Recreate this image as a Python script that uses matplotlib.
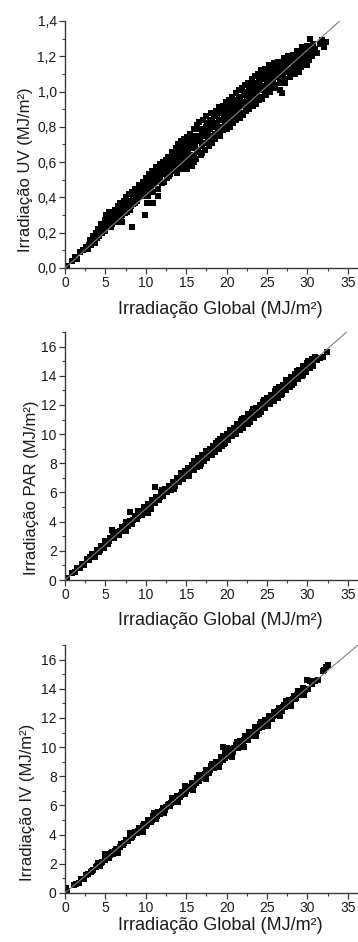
import matplotlib
matplotlib.use("Agg")
from matplotlib import pyplot as plt
from matplotlib.ticker import MultipleLocator, FuncFormatter

plt.rcParams['font.family'] = ['Liberation Sans', 'DejaVu Sans']

# ---- dados ----
uv_x = [0.2, 0.9, 1.2, 1.5, 1.9, 2.2, 2.6, 2.9,
        3.1, 3.2, 3.5, 3.6, 3.8, 3.9, 4.1, 4.2, 4.4, 4.6, 4.7, 4.9,
        5.0, 5.1, 5.3, 5.4, 5.6, 5.7, 5.9, 6.0, 6.2, 6.3, 6.5, 6.6, 6.8, 6.9, 7.0, 7.1, 7.3, 7.4,
        7.6, 7.7, 7.9, 8.0, 8.1, 8.24, 8.3, 8.4, 8.6, 8.7, 8.9, 9.0, 9.1, 9.3, 9.4, 9.6, 9.7, 9.8, 9.9, 10.0,
        10.1, 10.1, 10.3, 10.4, 10.5, 10.7, 10.8, 10.9, 11.0, 11.1, 11.2, 11.4, 11.5, 11.5, 11.7, 11.8, 11.9, 12.0, 12.1, 12.2, 12.4, 12.5,
        12.6, 12.7, 12.8, 12.9, 13.0, 13.1, 13.2, 13.3, 13.4, 13.6, 13.7, 13.8, 13.9, 14.0, 14.1, 14.2, 14.3, 14.4, 14.5, 14.6, 14.7, 14.8, 14.9, 15.0,
        15.1, 15.2, 15.3, 15.4, 15.5, 15.6, 15.7, 15.8, 15.9, 16.0, 16.1, 16.2, 16.3, 16.4, 16.5, 16.6, 16.7, 16.8, 16.9, 17.0, 17.1, 17.2, 17.3, 17.4, 17.5, 17.5,
        17.7, 17.8, 17.9, 18.0, 18.1, 18.2, 18.3, 18.4, 18.5, 18.6, 18.7, 18.8, 18.9, 19.0, 19.1, 19.2, 19.3, 19.4, 19.5, 19.6, 19.7, 19.8, 19.9, 20.0,
        20.1, 20.2, 20.3, 20.4, 20.5, 20.6, 20.7, 20.8, 20.9, 21.0, 21.1, 21.2, 21.3, 21.4, 21.5, 21.6, 21.7, 21.8, 21.9, 22.0, 22.1, 22.2, 22.3, 22.4,
        22.5, 22.6, 22.7, 22.8, 22.9, 23.0, 23.1, 23.2, 23.3, 23.4, 23.5, 23.6, 23.7, 23.8, 23.9, 24.0, 24.1, 24.2, 24.3, 24.4, 24.5, 24.6, 24.8, 24.9,
        25.0, 25.2, 25.3, 25.4, 25.6, 25.7, 25.8, 26.0, 26.1, 26.3, 26.4, 26.6, 26.8, 26.9, 27.0, 27.1, 27.2, 27.3, 27.5, 27.6,
        27.8, 27.9, 28.1, 28.2, 28.4, 28.5, 28.7, 28.8, 29.0, 29.1, 29.3, 29.4, 29.6, 29.7, 29.9, 30.0,
        30.2, 30.3, 30.5, 30.7, 30.9, 31.2, 31.5, 31.8, 32.0, 32.3,
        3.0, 3.4, 3.7, 4.0, 4.5, 4.8, 5.05, 5.5, 5.8, 6.1, 6.4, 6.7, 7.05, 7.35, 7.65, 7.85, 8.15, 8.45, 8.65, 8.85,
        9.15, 9.35, 9.55, 9.75, 10.05, 10.25, 10.45, 10.65, 10.85, 11.05, 11.25, 11.45, 11.65, 11.85, 12.05, 12.3,
        12.55, 12.85, 13.05, 13.35, 13.55, 13.85, 14.05, 14.25, 14.55, 14.75, 14.95, 15.15, 15.35, 15.55, 15.75, 15.95,
        16.15, 16.35, 16.55, 16.75, 16.95, 17.15, 17.35, 17.55, 17.75, 17.95, 18.15, 18.35, 18.55, 18.75, 18.95, 19.15,
        19.35, 19.55, 19.75, 19.95, 20.15, 20.35, 20.55, 20.75, 20.95, 21.15, 21.35, 21.55, 21.75, 21.95, 22.15, 22.35,
        22.55, 22.75, 22.95, 23.15, 23.35, 23.55, 23.75, 23.95, 24.15, 24.35, 24.55, 24.75, 24.95, 25.15, 25.35, 25.55,
        25.75, 25.95, 26.15, 26.35, 26.55, 26.75, 26.95, 27.15, 27.35, 27.55, 27.75, 27.95, 28.15, 28.35, 28.55, 28.75,
        28.95, 29.15, 29.35, 29.55, 29.75, 29.95, 30.15, 30.4, 30.6]
uv_y = [0.01, 0.04, 0.06, 0.05, 0.09, 0.10, 0.12, 0.11,
        0.16, 0.13, 0.18, 0.15, 0.20, 0.17, 0.22, 0.18, 0.25, 0.20, 0.23, 0.27,
        0.21, 0.30, 0.24, 0.32, 0.27, 0.23, 0.30, 0.26, 0.33, 0.28, 0.35, 0.30, 0.37, 0.27, 0.26, 0.33, 0.38, 0.31,
        0.40, 0.35, 0.42, 0.33, 0.38, 0.234, 0.43, 0.36, 0.40, 0.45, 0.38, 0.43, 0.47, 0.41, 0.45, 0.49, 0.42, 0.46, 0.30, 0.51,
        0.37, 0.44, 0.48, 0.53, 0.45, 0.50, 0.55, 0.37, 0.47, 0.52, 0.57, 0.49, 0.41, 0.54, 0.59, 0.51, 0.56, 0.48, 0.60, 0.53, 0.57, 0.61,
        0.51, 0.55, 0.63, 0.58, 0.53, 0.61, 0.66, 0.56, 0.63, 0.59, 0.68, 0.54, 0.62, 0.70, 0.57, 0.65, 0.72, 0.60, 0.67, 0.56, 0.73, 0.63, 0.69, 0.59,
        0.74, 0.65, 0.71, 0.61, 0.76, 0.68, 0.58, 0.73, 0.64, 0.79, 0.70, 0.62, 0.81, 0.75, 0.66, 0.83, 0.72, 0.64, 0.78, 0.69, 0.84, 0.75, 0.67, 0.80, 0.71, 0.86,
        0.77, 0.69, 0.83, 0.74, 0.88, 0.71, 0.80, 0.86, 0.76, 0.73, 0.89, 0.82, 0.77, 0.91, 0.84, 0.75, 0.88, 0.80, 0.92, 0.78, 0.86, 0.82, 0.94, 0.79,
        0.88, 0.84, 0.95, 0.80, 0.90, 0.86, 0.97, 0.82, 0.92, 0.88, 0.99, 0.84, 0.94, 0.90, 1.01, 0.85, 0.96, 0.92, 1.02, 0.87, 0.98, 0.93, 1.04, 0.89,
        0.99, 0.95, 1.05, 0.90, 1.00, 0.96, 1.07, 0.92, 1.02, 0.98, 1.09, 0.93, 1.04, 0.99, 1.10, 0.95, 1.06, 1.01, 1.12, 0.96, 1.07, 1.03, 1.13, 0.98,
        1.09, 1.04, 1.15, 1.00, 1.10, 1.06, 1.16, 1.02, 1.12, 1.08, 1.17, 1.05, 0.99, 1.13, 1.09, 1.19, 1.05, 1.15, 1.11, 1.20,
        1.08, 1.17, 1.13, 1.21, 1.10, 1.18, 1.23, 1.14, 1.11, 1.20, 1.25, 1.16, 1.22, 1.18, 1.26, 1.15,
        1.23, 1.30, 1.20, 1.27, 1.24, 1.22, 1.27, 1.29, 1.25, 1.28,
        0.13, 0.16, 0.14, 0.19, 0.22, 0.24, 0.25, 0.29, 0.25, 0.31, 0.26, 0.33, 0.30, 0.35, 0.32, 0.38, 0.35, 0.41, 0.37, 0.42,
        0.40, 0.44, 0.41, 0.48, 0.45, 0.41, 0.50, 0.47, 0.43, 0.54, 0.49, 0.45, 0.52, 0.58, 0.54, 0.49,
        0.57, 0.52, 0.59, 0.64, 0.55, 0.66, 0.63, 0.58, 0.70, 0.60, 0.66, 0.56, 0.68, 0.63, 0.71, 0.60,
        0.75, 0.67, 0.73, 0.79, 0.65, 0.71, 0.77, 0.82, 0.73, 0.79, 0.84, 0.75, 0.82, 0.86, 0.80, 0.88,
        0.78, 0.84, 0.90, 0.86, 0.81, 0.92, 0.83, 0.89, 0.95, 0.86, 0.92, 0.97, 0.88, 0.94, 1.00, 0.90,
        0.96, 1.02, 0.93, 0.99, 1.05, 0.95, 1.01, 1.07, 0.97, 1.03, 1.10, 1.00, 1.06, 1.12, 1.02, 1.07,
        1.13, 1.04, 1.09, 1.14, 1.01, 1.10, 1.16, 1.07, 1.12, 1.17, 1.13, 1.10, 1.18, 1.15, 1.12, 1.20,
        1.17, 1.14, 1.22, 1.19, 1.24, 1.21, 1.18, 1.25, 1.22]

par_x = [0.2, 0.9, 1.2, 1.5, 1.8, 2.1, 2.4, 2.7, 3.0, 3.3, 3.7, 3.9, 4.2, 4.5, 4.8, 5.0, 5.3, 5.6, 5.8, 6.1,
         6.4, 6.7, 7.0, 7.3, 7.6, 7.8, 8.0, 8.0, 8.3, 8.6, 8.9, 9.2, 9.5, 9.8, 10.0, 10.3, 10.3, 10.5, 10.8, 11.1,
         11.1, 11.3, 11.6, 11.9, 12.1, 12.4, 12.6, 12.9, 13.1, 13.4, 13.6, 13.9, 14.1, 14.3, 14.6, 14.8, 15.0, 15.2, 15.4, 15.7,
         15.9, 16.1, 16.3, 16.5, 16.8, 17.0, 17.2, 17.4, 17.6, 17.9, 18.1, 18.3, 18.5, 18.7, 19.0, 19.2, 19.4, 19.6, 19.8, 20.0,
         20.2, 20.5, 20.7, 20.9, 21.1, 21.3, 21.6, 21.8, 22.0, 22.2, 22.5, 22.7, 22.9, 23.1, 23.4, 23.6, 23.8, 24.1, 24.3, 24.5,
         24.8, 25.0, 25.3, 25.5, 25.8, 26.0, 26.3, 26.5, 26.8, 27.0, 27.3, 27.5, 27.8, 28.0, 28.3, 28.5, 28.8, 29.0, 29.3, 29.5,
         29.8, 30.0, 30.3, 30.6, 30.9, 31.2, 31.5, 31.9, 32.4,
         3.15, 3.5, 4.05, 4.35, 4.65, 5.15, 5.45, 5.95, 6.25, 6.55, 6.85, 7.15, 7.45, 7.95, 8.45, 8.75, 9.05, 9.35, 9.65, 10.15,
         10.65, 10.95, 11.45, 11.75, 12.25, 12.75, 13.0, 13.25, 13.75, 14.0, 14.45, 14.9, 15.1, 15.55, 15.8, 16.2, 16.6, 16.9, 17.3, 17.75,
         18.0, 18.4, 18.85, 19.1, 19.5, 19.9, 20.35, 20.6, 21.0, 21.45, 21.9, 22.35, 22.8, 23.25, 23.7, 24.0, 24.4, 24.9, 25.2, 25.65,
         26.15, 26.65, 27.15, 27.65, 28.15, 28.65, 29.15, 29.65, 30.15, 30.45,
         6.0, 7.5, 9.0, 10.6, 12.0, 13.5, 14.4, 15.3, 16.0, 16.7, 17.5, 18.2, 18.9, 19.7, 20.4, 21.2,
         21.9, 22.6, 23.3, 24.0, 24.6, 25.4, 26.1, 26.7, 27.4, 28.1, 28.7, 29.4, 30.1, 30.7]
par_y = [0.12, 0.50, 0.55, 0.80, 0.82, 1.10, 1.05, 1.45, 1.40, 1.75, 1.60, 2.05, 1.95, 2.35, 2.20, 2.65, 2.50, 2.90, 3.43, 2.85,
         3.30, 3.10, 3.65, 3.40, 3.95, 3.70, 4.69, 4.05, 3.85, 4.40, 4.20, 4.65, 4.45, 5.00, 4.70, 4.58, 5.20, 5.00, 5.45, 6.37,
         5.30, 5.70, 5.50, 6.00, 5.75, 6.25, 6.00, 6.45, 6.20, 6.75, 6.45, 7.00, 6.70, 7.20, 6.90, 7.45, 7.10, 7.65, 7.30, 7.90,
         7.55, 8.10, 7.75, 8.35, 7.95, 8.55, 8.15, 8.75, 8.35, 8.95, 8.60, 9.20, 8.80, 9.40, 9.00, 9.65, 9.20, 9.85, 9.40, 10.00,
         9.60, 10.25, 9.85, 10.45, 10.05, 10.70, 10.25, 10.90, 10.45, 11.10, 10.70, 11.40, 10.85, 11.55, 11.10, 11.80, 11.30, 12.00, 11.55, 12.20,
         11.80, 12.45, 12.05, 12.70, 12.30, 12.95, 12.50, 13.20, 12.75, 13.40, 13.00, 13.70, 13.25, 13.90, 13.50, 14.15, 13.75, 14.40, 14.00, 14.65,
         14.25, 14.85, 14.50, 15.15, 15.30, 15.10, 15.25, 15.30, 15.65,
         1.57, 1.68, 2.02, 2.09, 2.31, 2.48, 2.70, 2.88, 3.07, 3.18, 3.37, 3.46, 3.67, 3.86, 4.14, 4.25, 4.42, 4.55, 4.73, 4.93,
         5.22, 5.33, 5.62, 5.70, 6.00, 6.20, 6.37, 6.46, 6.72, 6.83, 7.07, 7.25, 7.38, 7.58, 7.72, 7.90, 8.12, 8.23, 8.47, 8.64,
         8.80, 8.96, 9.22, 9.30, 9.54, 9.68, 9.95, 10.03, 10.27, 10.44, 10.70, 10.87, 11.14, 11.33, 11.59, 11.68, 11.94, 12.13, 12.32, 12.50,
         12.78, 12.98, 13.27, 13.46, 13.76, 13.96, 14.24, 14.45, 14.73, 14.84,
         3.25, 3.35, 4.72, 4.85, 6.18, 6.27, 7.36, 7.15, 8.14, 7.83, 8.87, 8.56, 9.55, 9.29, 10.29, 10.03,
         11.02, 10.71, 11.70, 11.39, 12.33, 12.08, 13.07, 12.71, 13.70, 13.39, 14.34, 14.03, 15.02, 14.66]

iv_x = [0.1, 0.3, 1.1, 1.4, 1.7, 2.0, 2.3, 2.6, 2.9, 3.2, 3.5, 3.8, 4.1, 4.3, 4.6, 4.9, 5.1, 5.4, 5.7, 6.0,
        6.3, 6.6, 6.9, 7.2, 7.5, 7.8, 8.0, 8.3, 8.6, 8.9, 9.2, 9.5, 9.8, 10.0, 10.3, 10.6, 10.9, 11.2, 11.5, 11.8,
        12.1, 12.4, 12.7, 13.0, 13.3, 13.6, 13.9, 14.2, 14.5, 14.8, 15.1, 15.4, 15.7, 16.0, 16.3, 16.6, 16.9, 17.2, 17.5, 17.8,
        18.1, 18.4, 18.7, 19.0, 19.3, 19.6, 19.6, 19.9, 20.1, 20.2, 20.5, 20.8, 21.1, 21.4, 21.7, 22.0, 22.3, 22.6, 22.9, 23.2,
        23.5, 23.8, 24.1, 24.4, 24.7, 25.0, 25.3, 25.6, 25.9, 26.2, 26.5, 26.8, 27.1, 27.4, 27.7, 28.0, 28.3, 28.6, 28.9, 29.2,
        29.5, 29.9, 30.1, 30.5, 30.9, 31.3, 31.9, 32.1, 32.3, 32.6,
        3.35, 3.95, 4.45, 5.25, 5.55, 5.85, 6.15, 6.45, 6.75, 7.05, 7.35, 7.65, 8.15, 8.45, 8.75, 9.05, 9.35, 9.65, 10.15, 10.45,
        10.75, 11.05, 11.35, 11.65, 11.95, 12.25, 12.55, 12.85, 13.15, 13.45, 13.75, 14.05, 14.35, 14.65, 14.95, 15.25, 15.55, 15.85, 16.15, 16.45,
        16.75, 17.05, 17.35, 17.65, 17.95, 18.25, 18.55, 18.85, 19.15, 19.45, 19.75, 20.35, 20.65, 20.95, 21.25, 21.55, 21.85, 22.15, 22.45, 22.75,
        23.05, 23.35, 23.65, 23.95, 24.25, 24.55, 24.85, 25.15, 25.45, 25.75, 26.05, 26.35, 26.65, 26.95, 27.25, 27.55, 27.85, 28.15, 28.45, 28.75,
        29.05, 29.35, 29.7,
        5.0, 6.5, 8.1, 9.6, 11.0, 12.3, 13.2, 14.0, 14.9, 15.8, 16.6, 17.4, 18.2, 19.1, 19.8, 20.6,
        21.3, 22.1, 22.8, 23.6, 24.3, 25.1, 25.8, 26.6, 27.3, 28.0, 28.8, 29.6, 30.3]
iv_y = [0.35, 0.12, 0.55, 0.60, 0.70, 0.95, 0.95, 1.20, 1.30, 1.45, 1.55, 1.80, 2.05, 1.85, 2.15, 2.25, 2.45, 2.40, 2.75, 2.70,
        3.05, 3.00, 3.35, 3.30, 3.60, 3.55, 3.95, 3.85, 4.20, 4.10, 4.45, 4.35, 4.75, 4.60, 5.00, 4.85, 5.25, 5.10, 5.55, 5.40,
        5.80, 5.70, 6.05, 5.95, 6.35, 6.25, 6.65, 6.55, 6.95, 6.80, 7.25, 7.10, 7.55, 7.40, 7.85, 7.70, 8.10, 7.95, 8.40, 8.25,
        8.70, 8.55, 9.00, 8.80, 9.35, 10.00, 9.10, 9.65, 9.95, 9.40, 9.85, 9.65, 10.15, 9.95, 10.45, 10.25, 10.75, 10.50, 11.05, 10.80,
        11.35, 11.10, 11.60, 11.35, 11.85, 11.65, 12.10, 11.95, 12.40, 12.20, 12.65, 12.50, 12.90, 12.80, 13.25, 13.05, 13.50, 13.35, 13.75, 13.60,
        14.05, 14.60, 14.00, 14.35, 14.55, 14.60, 15.20, 15.30, 15.50, 15.60,
        1.52, 1.88, 2.06, 2.47, 2.58, 2.78, 2.87, 3.05, 3.16, 3.33, 3.43, 3.62, 3.80, 4.01, 4.10, 4.28, 4.38, 4.57, 4.75, 4.95,
        5.03, 5.23, 5.31, 5.51, 5.59, 5.79, 5.87, 6.08, 6.15, 6.35, 6.43, 6.64, 6.72, 6.93, 7.00, 7.21, 7.28, 7.49, 7.57, 7.78,
        7.85, 8.06, 8.13, 8.35, 8.41, 8.62, 8.69, 8.91, 8.97, 9.19, 9.25, 9.64, 9.69, 9.91, 9.96, 10.18, 10.23, 10.46, 10.51, 10.74,
        10.79, 11.02, 11.07, 11.31, 11.35, 11.59, 11.63, 11.88, 11.91, 12.16, 12.19, 12.45, 12.48, 12.73, 12.77, 13.02, 13.05, 13.30, 13.33, 13.59,
        13.61, 13.87, 13.92,
        2.68, 2.73, 4.13, 4.18, 5.49, 5.45, 6.52, 6.25, 7.32, 7.09, 8.12, 7.84, 8.87, 8.64, 9.62, 9.34,
        10.32, 10.04, 11.02, 10.75, 11.73, 11.45, 12.43, 12.16, 13.13, 12.81, 13.84, 13.56, 14.54]

fit_slopes = [0.0412, 0.488, 0.469]

y_labels = ['Irradiação UV (MJ/m²)', 'Irradiação PAR (MJ/m²)', 'Irradiação IV (MJ/m²)']
x_label = 'Irradiação Global (MJ/m²)'
x_ticks = [0, 5, 10, 15, 20, 25, 30, 35]

# ---- figura ----
fig = plt.figure(figsize=(3.58, 9.42), dpi=100)
W, H = 358.0, 942.0

# (esquerda, base, topo) em pixels
boxes = [(65, 268, 21), (65, 580, 332), (65, 893, 645)]
ylab_pos = [(-0.108, 0.40), (-0.088, 0.37), (-0.104, 0.365)]
xlab_pos = [(0.529, -0.135), (0.529, -0.128), (0.529, -0.095)]
msize = [15, 24, 24]

data = [(uv_x, uv_y), (par_x, par_y), (iv_x, iv_y)]
ink = '#1a1a1a'
axcol = '#3a3a3a'

for i, (left, bottom, top) in enumerate(boxes):
    ax = fig.add_axes([left / W, 1 - bottom / H, (W - left) / W, (bottom - top) / H])
    xs, ys = data[i]
    ax.scatter(xs, ys, s=msize[i], marker='s', color='black', linewidths=0, zorder=2)

    lx = [0, 37]
    ax.plot(lx, [fit_slopes[i] * v for v in lx], color='#808080', lw=0.8, zorder=3)

    ax.set_xlim(0, 36.25)
    if i == 0:
        ax.set_ylim(0, 1.4)
        ax.yaxis.set_major_locator(MultipleLocator(0.2))
        ax.yaxis.set_minor_locator(MultipleLocator(0.1))
        ax.yaxis.set_major_formatter(FuncFormatter(lambda v, p: ('%.1f' % v).replace('.', ',')))
    else:
        ax.set_ylim(0, 17)
        ax.yaxis.set_major_locator(MultipleLocator(2))
        ax.yaxis.set_minor_locator(MultipleLocator(1))
    ax.set_xticks(x_ticks)
    ax.xaxis.set_minor_locator(MultipleLocator(2.5))

    for s in ['top', 'right']:
        ax.spines[s].set_visible(False)
    for s in ['left', 'bottom']:
        ax.spines[s].set_color(axcol)
        ax.spines[s].set_linewidth(1.0)

    ax.tick_params(which='major', direction='out', length=4, width=0.9, color=axcol,
                   labelsize=10, labelcolor=ink, pad=2)
    ax.tick_params(which='minor', direction='out', length=2.5, width=0.8, color=axcol)

    ax.set_ylabel(y_labels[i], fontsize=12, color=ink)
    ax.yaxis.set_label_coords(*ylab_pos[i])
    ax.set_xlabel(x_label, fontsize=13, color=ink)
    ax.xaxis.set_label_coords(*xlab_pos[i])
    ax.patch.set_alpha(0)

fig.savefig('out.png', dpi=100)
